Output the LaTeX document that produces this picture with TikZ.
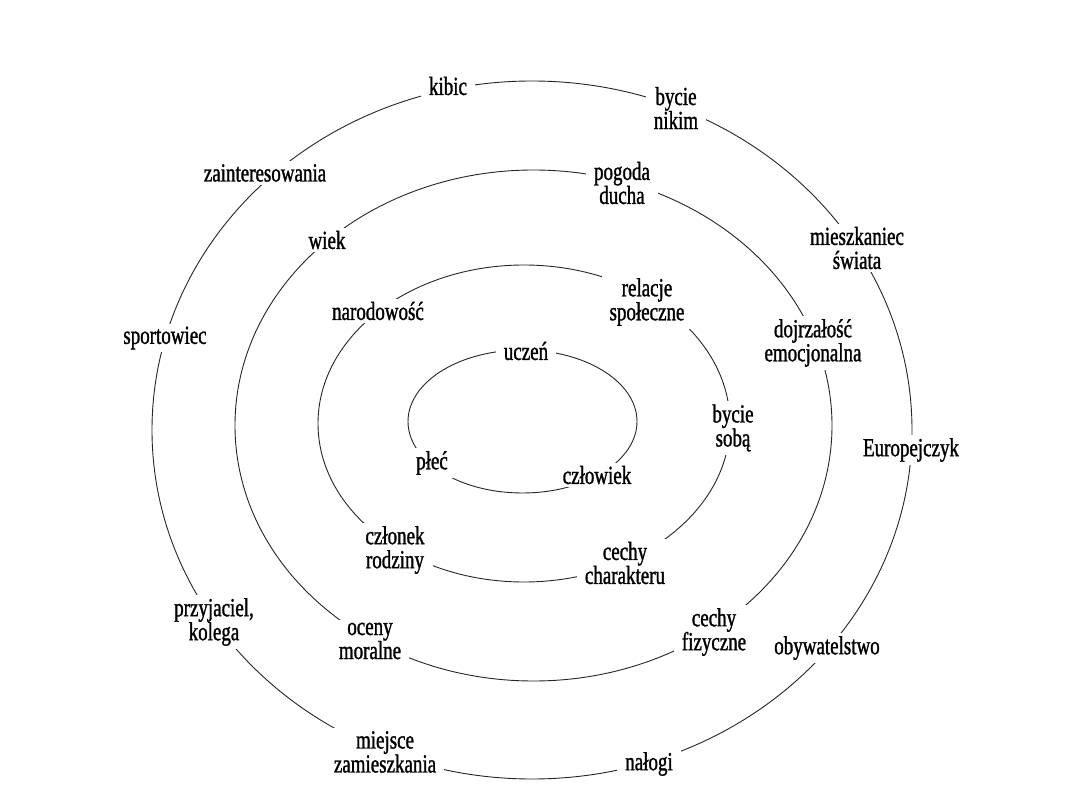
\documentclass[tikz,border=0pt]{standalone}
\usepackage{fontspec}
\setmainfont{Liberation Serif}[FakeStretch=0.73,FakeBold=1.2]
\begin{document}
\begin{tikzpicture}[x=1pt,y=-1pt,
  lab/.style={fill=white, inner xsep=8pt, inner ysep=3pt, align=center,
    font=\fontsize{26}{24}\selectfont},
  ring/.style={line width=0.9pt, black!85}]
\useasboundingbox (0,0) rectangle (1080,810);
\fill[white] (0,0) rectangle (1080,810);
% rings
\draw[ring] (532,430) ellipse [x radius=380pt, y radius=349pt];
\draw[ring] (533.5,425.5) ellipse [x radius=298.5pt, y radius=255.5pt];
\draw[ring] (524,423.5) ellipse [x radius=206pt, y radius=158.5pt];
\draw[ring] (522.5,421.5) ellipse [x radius=114.5pt, y radius=71.5pt];
% outer ring labels
\node[lab] (kibic) at (448,86) {kibic};
\node[lab] (nikim) at (676,108) {bycie\\nikim};
\node[lab] (swiat) at (857,248) {mieszkaniec\\świata};
\node[lab] (europ) at (911,450) {Europejczyk};
\node[lab] (obyw) at (827,648) {obywatelstwo};
\node[lab] (nalogi) at (649,764) {nałogi};
\node[lab] (miejsce) at (385,752) {miejsce\\zamieszkania};
\node[lab] (przyj) at (214,622) {przyjaciel,\\kolega};
\node[lab] (sport) at (165,338) {sportowiec};
\node[lab] (zaint) at (265,173) {zainteresowania};
% third ring labels
\node[lab] (pogoda) at (622,183) {pogoda\\ducha};
\node[lab] (dojrz) at (813,343) {dojrzałość\\emocjonalna};
\node[lab] (fiz) at (714,632) {cechy\\fizyczne};
\node[lab] (oceny) at (370,641) {oceny\\moralne};
\node[lab] (wiek) at (327,240) {wiek};
% second ring labels
\node[lab] (narod) at (378,311) {narodowość};
\node[lab] (relacje) at (647,302) {relacje\\społeczne};
\node[lab] (soba) at (733,428) {bycie\\sobą};
\node[lab] (charakter) at (625,563) {cechy\\charakteru};
\node[lab] (czlonek) at (395,550) {członek\\rodziny};
% inner ring labels
\node[lab] (uczen) at (526,351) {uczeń};
\node[lab] (czlowiek) at (597,475) {człowiek};
\node[lab] (plec) at (432,463) {płeć};
\end{tikzpicture}
\end{document}
